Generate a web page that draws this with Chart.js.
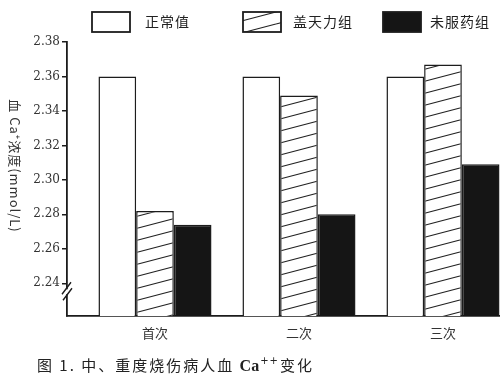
<!DOCTYPE html>
<html>
<head>
<meta charset="utf-8">
<script src="https://cdn.jsdelivr.net/npm/chart.js@4/dist/chart.umd.min.js"></script>
<style>
  html, body { margin: 0; padding: 0; background: #fff; overflow: hidden; }
  #wrap { width: 500px; height: 382px; }
</style>
</head>
<body>
<div id="wrap"><canvas id="c" width="500" height="382"></canvas></div>
<script>
// ---- data ----
const categories = ['首次', '二次', '三次'];
const seriesNames = ['正常值', '盖天力组', '未服药组'];
const normalValues = [2.36, 2.36, 2.36];
const gaitianliValues = [2.282, 2.349, 2.367];
const untreatedValues = [2.274, 2.28, 2.309];
const yTickValues = [2.24, 2.26, 2.28, 2.30, 2.32, 2.34, 2.36, 2.38];
const yAxisTitle = '血 Ca⁺浓度(mmol/L)';
const captionParts = ['图 1. 中、重度烧伤病人血 ', 'Ca', '++', '变化'];

// ---- styles ----
const CJK = '"Noto Sans CJK SC", "Noto Sans", sans-serif';
const INK = '#1c1c1c';

function makeHatch() {
  const W = 46, H = 12;
  const c = document.createElement('canvas');
  c.width = W; c.height = H;
  const g = c.getContext('2d');
  g.fillStyle = '#fff';
  g.fillRect(0, 0, W, H);
  g.strokeStyle = '#222';
  g.lineWidth = 1.1;
  for (const off of [-H, 0, H]) {
    g.beginPath();
    g.moveTo(0, H + off);
    g.lineTo(W, off);
    g.stroke();
  }
  return g.createPattern(c, 'repeat');
}
const hatch = makeHatch();

const toPoints = vals => vals.map((v, i) => ({ x: i + 1, y: v }));

const fills = ['#ffffff', hatch, '#151515'];
const seriesValues = [normalValues, gaitianliValues, untreatedValues];

const datasets = seriesNames.map((name, k) => ({
  label: name,
  data: toPoints(seriesValues[k]),
  backgroundColor: fills[k],
  borderColor: INK,
  borderWidth: 1.5,
  categoryPercentage: 0.785,
  barPercentage: 1.0
}));

// custom legend (matches the hand-set layout of the figure)
const legendPlugin = {
  id: 'figLegend',
  afterDraw(chart) {
    const ctx = chart.ctx;
    const boxX = [92, 243, 383];
    const textX = [145, 293, 430];
    ctx.save();
    chart.data.datasets.forEach((ds, i) => {
      ctx.fillStyle = ds.backgroundColor;
      ctx.fillRect(boxX[i], 12, 38, 20);
      ctx.lineWidth = 1.8;
      ctx.strokeStyle = INK;
      ctx.strokeRect(boxX[i], 12, 38, 20);
      ctx.fillStyle = '#222';
      ctx.font = '14px ' + CJK;
      ctx.textBaseline = 'middle';
      ctx.textAlign = 'left';
      ctx.letterSpacing = '1px';
      ctx.fillText(ds.label, textX[i], 22);
      ctx.letterSpacing = '0px';
    });
    ctx.restore();
  }
};

// y-axis title (reads top-to-bottom), axis break marks and caption
const decoPlugin = {
  id: 'figDeco',
  afterDraw(chart) {
    const ctx = chart.ctx;
    const area = chart.chartArea;
    const ys = chart.scales.y;
    ctx.save();
    // y title
    ctx.translate(15, 166);
    ctx.rotate(Math.PI / 2);
    ctx.font = '13px ' + CJK;
    ctx.letterSpacing = '1px';
    ctx.fillStyle = '#333';
    ctx.textAlign = 'center';
    ctx.textBaseline = 'middle';
    ctx.fillText(yAxisTitle, 0, 0);
    ctx.restore();

    // axis break
    ctx.save();
    const x0 = area.left;
    const yb = ys.getPixelForValue(yTickValues[0]) + 9;
    ctx.fillStyle = '#fff';
    ctx.fillRect(x0 - 2, yb - 3, 4, 5);
    ctx.strokeStyle = INK;
    ctx.lineWidth = 1.4;
    ctx.beginPath();
    ctx.moveTo(x0 - 5, yb + 2); ctx.lineTo(x0 + 4, yb - 10);
    ctx.moveTo(x0 - 4, yb + 8); ctx.lineTo(x0 + 5, yb - 4);
    ctx.stroke();
    ctx.restore();

    // caption
    ctx.save();
    ctx.fillStyle = '#222';
    ctx.textBaseline = 'alphabetic';
    ctx.textAlign = 'left';
    let cx = 37;
    const base = 371;
    ctx.letterSpacing = '2px';
    ctx.font = '15px ' + CJK;
    ctx.fillText(captionParts[0], cx, base);
    cx += ctx.measureText(captionParts[0]).width;
    ctx.letterSpacing = '0px';
    ctx.font = 'bold 16px "Liberation Serif", serif';
    ctx.fillText(captionParts[1], cx, base);
    cx += ctx.measureText(captionParts[1]).width + 1;
    ctx.font = '10px "DejaVu Sans", sans-serif';
    ctx.letterSpacing = '1px';
    ctx.fillText(captionParts[2], cx, base - 7);
    cx += ctx.measureText(captionParts[2]).width + 1;
    ctx.letterSpacing = '2px';
    ctx.font = '15px ' + CJK;
    ctx.fillText(captionParts[3], cx, base);
    ctx.restore();
  }
};

new Chart(document.getElementById('c'), {
  type: 'bar',
  data: { datasets },
  plugins: [legendPlugin, decoPlugin],
  options: {
    responsive: false,
    animation: false,
    devicePixelRatio: 1,
    layout: { padding: { top: 42, right: 0, bottom: 0, left: 0 } },
    plugins: {
      legend: { display: false },
      tooltip: { enabled: false },
      title: { display: false }
    },
    scales: {
      x: {
        type: 'linear',
        min: 0.389,
        max: 3.396,
        offset: false,
        afterBuildTicks: s => { s.ticks = categories.map((c, i) => ({ value: i + 1 })); },
        afterFit: s => { s.height = 66; },
        grid: { display: false, drawTicks: false },
        border: { display: true, color: INK, width: 1.8 },
        ticks: {
          padding: 9,
          color: '#333',
          font: { family: CJK, size: 13 },
          autoSkip: false,
          maxRotation: 0,
          callback: v => categories[Math.round(v) - 1]
        }
      },
      y: {
        type: 'linear',
        min: 2.221,
        max: 2.38,
        afterBuildTicks: s => { s.ticks = yTickValues.map(v => ({ value: v })); },
        afterFit: s => { s.width = 67; },
        grid: {
          display: true,
          drawOnChartArea: false,
          drawTicks: true,
          tickLength: 5,
          color: INK,
          lineWidth: 1.5
        },
        border: { display: true, color: INK, width: 1.8 },
        ticks: {
          padding: 2,
          color: '#333',
          font: { family: '"DejaVu Serif", serif', size: 12 },
          callback: v => v.toFixed(2)
        }
      }
    }
  }
});
</script>
</body>
</html>
